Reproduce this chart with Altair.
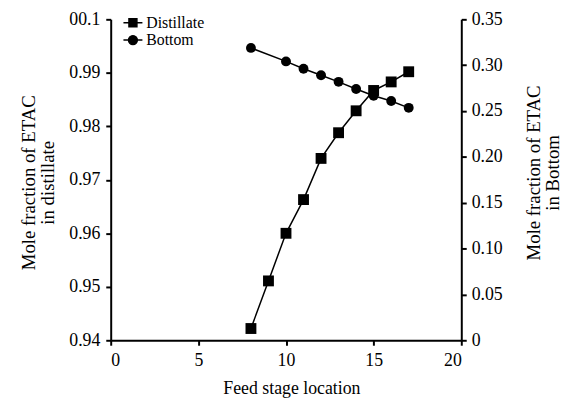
import altair as alt
import pandas as pd

# Feed stage location
stage_d = [8, 9, 10, 11, 12, 13, 14, 15, 16, 17]
distillate = [0.9422, 0.9511, 0.9600, 0.9663, 0.9740, 0.9788, 0.9829, 0.9867, 0.9883, 0.9902]
stage_b = [8, 10, 11, 12, 13, 14, 15, 16, 17]
bottom = [0.3188, 0.3041, 0.2961, 0.2890, 0.2818, 0.2740, 0.2667, 0.2610, 0.2535]

left_ticks = [0.94, 0.95, 0.96, 0.97, 0.98, 0.99, 1.00]
right_ticks = [0, 0.05, 0.10, 0.15, 0.20, 0.25, 0.30, 0.35]
x_ticks = [0, 5, 10, 15, 20]
series = ["Distillate", "Bottom"]

df_d = pd.DataFrame({"stage": stage_d, "value": distillate, "series": series[0]})
df_b = pd.DataFrame({"stage": stage_b, "value": bottom, "series": series[1]})

FONT = "Liberation Serif"

# legend glyphs: a short line with the marker in its middle
sq_path = "M-1.6,0L1.6,0M-0.67,-0.67L0.67,-0.67L0.67,0.67L-0.67,0.67Z"
ci_path = "M-1.6,0L1.6,0M-0.75,0A0.75,0.75,0,1,1,0.75,0A0.75,0.75,0,1,1,-0.75,0Z"


def leg(path, ly):
    return alt.Legend(
        title=None, orient="none", legendX=14.5, legendY=ly, symbolType=path,
        symbolSize=144, symbolFillColor="black", symbolStrokeColor="black",
        symbolStrokeWidth=1.5, labelFont=FONT, labelFontSize=16, labelColor="black",
        labelOffset=5.5,
    )


def axes():
    x_enc = alt.X("stage:Q", scale=alt.Scale(domain=[0, 20], nice=False),
                  axis=alt.Axis(values=x_ticks, title="Feed stage location", format="d",
                                labelPadding=7, titleX=183, titleY=49,
                                titleBaseline="middle", titleAlign="center"))
    y_left = alt.Y("value:Q", scale=alt.Scale(domain=[0.94, 1.0], nice=False, zero=False),
                   axis=alt.Axis(values=left_ticks, orient="left",
                                 title=["Mole fraction of ETAC", "in distillate"],
                                 labelExpr="datum.value >= 0.9999 ? '00.1' : format(datum.value, '.2f')",
                                 labelPadding=6, titleAngle=-90, titleBaseline="alphabetic",
                                 titleAlign="center", titleX=-77, titleY=165,
                                 titleFontSize=19, titleLineHeight=19))
    y_right = alt.Y("value:Q", scale=alt.Scale(domain=[0, 0.35], nice=False),
                    axis=alt.Axis(values=right_ticks, orient="right",
                                  title=["Mole fraction of ETAC", "in Bottom"],
                                  labelExpr="datum.value == 0 ? '0' : format(datum.value, '.2f')",
                                  labelPadding=5, titleAngle=-90, titleBaseline="alphabetic",
                                  titleAlign="center", titleX=79, titleY=155,
                                  titleFontSize=19, titleLineHeight=19))
    return x_enc, y_left, y_right


def finish(layered):
    return layered.resolve_scale(y="independent").properties(
        width=355, height=325,
        autosize=alt.AutoSizeParams(type="none"),
        padding={"left": 104, "top": 9, "right": 104, "bottom": 58},
    ).configure_view(strokeWidth=0).configure_legend(rowPadding=1, padding=0).configure_axis(
        grid=False, domainColor="black", domainWidth=2, tickColor="black", tickWidth=2,
        tickSize=5, labelFont=FONT, labelFontSize=18, labelColor="black",
        titleFont=FONT, titleFontSize=18, titleFontWeight="normal", titleColor="black",
    )


def build_line_legends():
    x_enc, y_left, y_right = axes()
    line_d = alt.Chart(df_d).mark_line(color="black", strokeWidth=1.5).encode(
        x=x_enc, y=y_left,
        color=alt.Color("series:N", scale=alt.Scale(domain=[series[0]], range=["black"]),
                        legend=leg(sq_path, -4.5)))
    pt_d = alt.Chart(df_d).mark_point(filled=True, opacity=1, size=121, color="black",
                                      shape="square").encode(x=x_enc, y=y_left)
    line_b = alt.Chart(df_b).mark_line(color="black", strokeWidth=1.5).encode(
        x=x_enc, y=y_right,
        opacity=alt.Opacity("series:N", scale=alt.Scale(domain=[series[1]], range=[1]),
                            legend=leg(ci_path, 13)))
    pt_b = alt.Chart(df_b).mark_point(filled=True, opacity=1, size=100, color="black",
                                      shape="circle").encode(x=x_enc, y=y_right)
    return finish(alt.layer(alt.layer(line_d, pt_d), alt.layer(line_b, pt_b)))


def build_shape_legend():
    x_enc, y_left, y_right = axes()
    shape_scale = alt.Scale(domain=series, range=["square", "circle"])
    legend = alt.Legend(title=None, orient="none", legendX=14.5, legendY=-4.5,
                        symbolSize=100, symbolFillColor="black", labelFont=FONT,
                        labelFontSize=16, labelColor="black", labelOffset=8)
    line_d = alt.Chart(df_d).mark_line(color="black", strokeWidth=1.5).encode(x=x_enc, y=y_left)
    pt_d = alt.Chart(df_d).mark_point(filled=True, opacity=1, size=121, color="black").encode(
        x=x_enc, y=y_left, shape=alt.Shape("series:N", scale=shape_scale, legend=legend))
    line_b = alt.Chart(df_b).mark_line(color="black", strokeWidth=1.5).encode(x=x_enc, y=y_right)
    pt_b = alt.Chart(df_b).mark_point(filled=True, opacity=1, size=100, color="black").encode(
        x=x_enc, y=y_right, shape=alt.Shape("series:N", scale=shape_scale, legend=legend))
    return finish(alt.layer(alt.layer(line_d, pt_d), alt.layer(line_b, pt_b)))


try:
    chart = build_line_legends()
    chart.to_dict()
except Exception:
    chart = build_shape_legend()

chart.save("out.html", embed_options={"renderer": "svg", "actions": False})
